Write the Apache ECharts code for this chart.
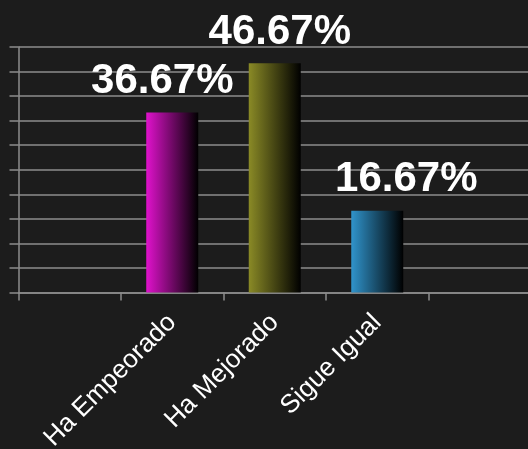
<!DOCTYPE html>
<html><head><meta charset="utf-8">
<script src="https://cdn.jsdelivr.net/npm/echarts@6/dist/echarts.min.js"></script>
<style>html,body{margin:0;padding:0;background:#1c1c1c;}#c{width:528px;height:449px;}</style>
</head><body><div id="c"></div>
<script>
var categories = ['', 'Ha Empeorado', 'Ha Mejorado', 'Sigue Igual', ''];
var values = [null, 36.67, 46.67, 16.67, null];
var yTicks = [0, 5, 10, 15, 20, 25, 30, 35, 40, 45, 50];

var barColors = [null, ['#e012cc', '#000000'], ['#8a8a26', '#000000'], ['#3094cc', '#000000'], null];
var labelOffsets = [null, [-10, 0], [5, 0], [29, 0], null];

var chart = echarts.init(document.getElementById('c'));
var data = values.map(function (v, i) {
  if (v == null) return null;
  return {
    value: v,
    itemStyle: {
      color: new echarts.graphic.LinearGradient(0, 0, 1, 0, [
        { offset: 0, color: barColors[i][0] },
        { offset: 1, color: barColors[i][1] }
      ])
    },
    label: { offset: labelOffsets[i] }
  };
});
chart.setOption({
  backgroundColor: '#1c1c1c',
  animation: false,
  grid: { left: 18.5, top: 47, width: 512.5, height: 245.5, outerBoundsMode: 'none', containLabel: false },
  xAxis: {
    type: 'category',
    data: categories,
    axisLine: { lineStyle: { color: '#8c8c8c', width: 1.5 } },
    axisTick: { show: true, length: 8, lineStyle: { color: '#8c8c8c', width: 1.5 } },
    axisLabel: {
      rotate: 45, color: '#ffffff', fontSize: 26, margin: 26,
      fontFamily: 'Liberation Sans, Arial, sans-serif', interval: 0
    }
  },
  yAxis: {
    type: 'value',
    min: yTicks[0], max: yTicks[yTicks.length - 1], interval: yTicks[1] - yTicks[0],
    axisLine: { show: true, lineStyle: { color: '#8c8c8c', width: 1.5 } },
    axisTick: { show: true, length: 9, lineStyle: { color: '#8c8c8c', width: 1.5 } },
    axisLabel: { show: false },
    splitLine: { show: true, lineStyle: { color: '#8c8c8c', width: 1.5 } }
  },
  series: [{
    type: 'bar',
    data: data,
    barWidth: 52,
    label: {
      show: true, position: 'top', distance: 10,
      color: '#ffffff', fontSize: 42, fontWeight: 'bold',
      fontFamily: 'Liberation Sans, Arial, sans-serif',
      formatter: function (p) { return p.value.toFixed(2) + '%'; }
    }
  }]
});
</script></body></html>
